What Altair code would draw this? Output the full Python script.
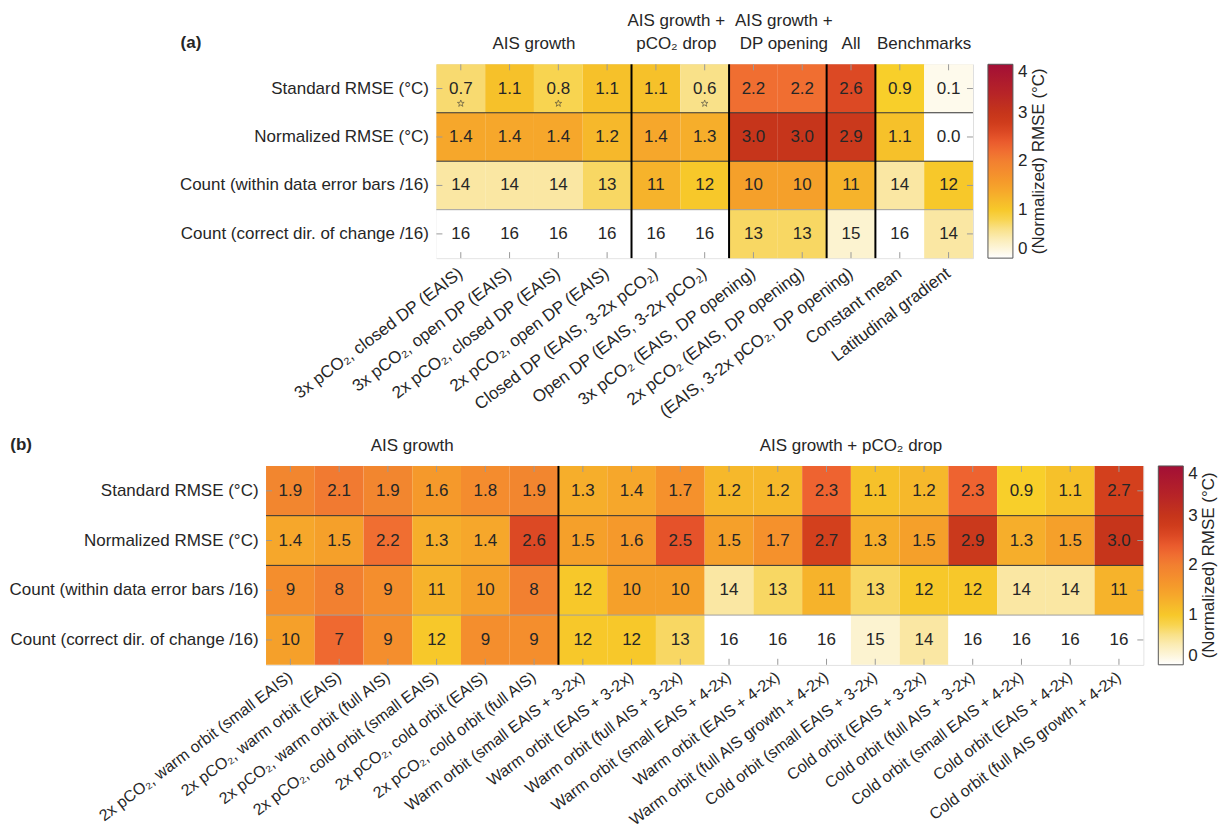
import altair as alt
import pandas as pd

FONT = "Liberation Sans"
TXT = "#262626"
FS = 17

ROWS = ["Standard RMSE (°C)", "Normalized RMSE (°C)",
        "Count (within data error bars /16)", "Count (correct dir. of change /16)"]

A_COLS = ["3x pCO₂, closed DP (EAIS)", "3x pCO₂, open DP (EAIS)",
          "2x pCO₂, closed DP (EAIS)", "2x pCO₂, open DP (EAIS)",
          "Closed DP (EAIS, 3-2x pCO₂)", "Open DP (EAIS, 3-2x pCO₂)",
          "3x pCO₂ (EAIS, DP opening)", "2x pCO₂ (EAIS, DP opening)",
          "(EAIS, 3-2x pCO₂, DP opening)", "Constant mean", "Latitudinal gradient"]
A_STD = [0.7, 1.1, 0.8, 1.1, 1.1, 0.6, 2.2, 2.2, 2.6, 0.9, 0.1]
A_NORM = [1.4, 1.4, 1.4, 1.2, 1.4, 1.3, 3.0, 3.0, 2.9, 1.1, 0.0]
A_WITHIN = [14, 14, 14, 13, 11, 12, 10, 10, 11, 14, 12]
A_DIR = [16, 16, 16, 16, 16, 16, 13, 13, 15, 16, 14]
A_STARS = [0, 2, 5]
A_GROUP_START = [4, 6, 8, 9]
# (label, column index, band position, horizontal nudge)
A_HEADERS = [("AIS growth", 2, 0.0, 0), ("AIS growth +\npCO₂ drop", 5, 0.0, -4),
             ("AIS growth +\nDP opening", 7, 0.0, 6), ("All", 8, 0.5, 0),
             ("Benchmarks", 10, 0.0, 0)]

B_COLS = ["2x pCO₂, warm orbit (small EAIS)", "2x pCO₂, warm orbit (EAIS)",
          "2x pCO₂, warm orbit (full AIS)", "2x pCO₂, cold orbit (small EAIS)",
          "2x pCO₂, cold orbit (EAIS)", "2x pCO₂, cold orbit (full AIS)",
          "Warm orbit (small EAIS + 3-2x)", "Warm orbit (EAIS + 3-2x)",
          "Warm orbit (full AIS + 3-2x)", "Warm orbit (small EAIS + 4-2x)",
          "Warm orbit (EAIS + 4-2x)", "Warm orbit (full AIS growth + 4-2x)",
          "Cold orbit (small EAIS + 3-2x)", "Cold orbit (EAIS + 3-2x)",
          "Cold orbit (full AIS + 3-2x)", "Cold orbit (small EAIS + 4-2x)",
          "Cold orbit (EAIS + 4-2x)", "Cold orbit (full AIS growth + 4-2x)"]
B_STD = [1.9, 2.1, 1.9, 1.6, 1.8, 1.9, 1.3, 1.4, 1.7, 1.2, 1.2, 2.3, 1.1, 1.2, 2.3, 0.9, 1.1, 2.7]
B_NORM = [1.4, 1.5, 2.2, 1.3, 1.4, 2.6, 1.5, 1.6, 2.5, 1.5, 1.7, 2.7, 1.3, 1.5, 2.9, 1.3, 1.5, 3.0]
B_WITHIN = [9, 8, 9, 11, 10, 8, 12, 10, 10, 14, 13, 11, 13, 12, 12, 14, 14, 11]
B_DIR = [10, 7, 9, 12, 9, 9, 12, 12, 13, 16, 16, 16, 15, 14, 16, 16, 16, 16]
B_STARS = []
B_GROUP_START = [6]
B_HEADERS = [("AIS growth", 3, 0.0, 0), ("AIS growth + pCO₂ drop", 12, 0.0, 0)]

CMAP_DOMAIN = [0, 0.25, 0.5, 0.75, 0.9, 1.1, 1.3, 1.5, 1.7, 1.9, 2.1, 2.3, 2.5,
               2.7, 3.0, 3.5, 4.0]
CMAP_RANGE = ["#ffffff", "#fcf3d0", "#fae7a3", "#f8d763", "#f8cf2a", "#f6c12a",
              "#f6ae2b", "#f5a02a", "#f5912c", "#f2862f", "#f17a31", "#ee6330",
              "#e5522a", "#d3401d", "#c6351b", "#b3202a", "#a30f36"]
LEGEND_TITLE = "(Normalized) RMSE (°C)"

STAR_PATH = ("M0,-1L0.235,-0.324L0.951,-0.309L0.38,0.124L0.588,0.809L0,0.4"
             "L-0.588,0.809L-0.38,0.124L-0.951,-0.309L-0.235,-0.324Z")


def make_panel(tag, cols, std, norm, within, dirc, stars, gstarts, headers, w, h,
               xfs=FS, xpad=13):
    recs = []
    for i, c in enumerate(cols):
        recs.append({"col": c, "row": ROWS[0], "txt": f"{std[i]:.1f}", "cval": std[i]})
        recs.append({"col": c, "row": ROWS[1], "txt": f"{norm[i]:.1f}", "cval": norm[i]})
        recs.append({"col": c, "row": ROWS[2], "txt": str(within[i]), "cval": (16 - within[i]) / 4})
        recs.append({"col": c, "row": ROWS[3], "txt": str(dirc[i]), "cval": (16 - dirc[i]) / 4})
    df = pd.DataFrame(recs)

    xsc = alt.Scale(domain=cols, paddingInner=0, paddingOuter=0)
    ysc = alt.Scale(domain=ROWS, paddingInner=0, paddingOuter=0)
    X = alt.X("col:N", scale=xsc, sort=cols, title=None,
              axis=alt.Axis(labelAngle=323, labelAlign="right", labelBaseline="middle",
                            labelFontSize=xfs, labelColor=TXT, labelFont=FONT,
                            ticks=False, domain=False, labelPadding=xpad, labelLimit=600))
    Y = alt.Y("row:N", scale=ysc, sort=ROWS, title=None,
              axis=alt.Axis(labelFontSize=FS, labelColor=TXT, labelFont=FONT,
                            ticks=False, domain=False, labelPadding=8, labelLimit=600))

    heat = alt.Chart(df).mark_rect(opacity=1).encode(
        x=X, y=Y,
        color=alt.Color("cval:Q",
                        scale=alt.Scale(domain=CMAP_DOMAIN, range=CMAP_RANGE,
                                        clamp=True, interpolate="rgb"),
                        legend=alt.Legend(orient="none", legendX=w + 15, legendY=0,
                                          direction="vertical", title=None,
                                          gradientLength=h, gradientThickness=25,
                                          gradientStrokeColor="#555", gradientStrokeWidth=1,
                                          values=[0, 1, 2, 3, 4], labelFontSize=FS,
                                          labelColor=TXT, labelFont=FONT, labelOffset=5)),
    )
    txt = alt.Chart(df).mark_text(fontSize=FS, color=TXT, font=FONT).encode(
        x="col:N", y="row:N", text="txt:N")

    layers = [heat, txt]

    if stars:
        sdf = pd.DataFrame({"col": [cols[i] for i in stars], "row": [ROWS[0]] * len(stars)})
        layers.append(alt.Chart(sdf).mark_point(shape=STAR_PATH, size=50, filled=False,
                                                stroke="#333333", strokeWidth=0.8,
                                                yOffset=15).encode(x="col:N", y="row:N"))

    cdf = pd.DataFrame({"col": cols})
    rdf = pd.DataFrame({"row": ROWS})
    tick_col = "#9a9a9a"
    layers.append(alt.Chart(cdf).mark_rule(color=tick_col, strokeWidth=1).encode(
        x="col:N", y=alt.value(0), y2=alt.value(6)))
    layers.append(alt.Chart(cdf).mark_rule(color=tick_col, strokeWidth=1).encode(
        x="col:N", y=alt.value(h - 6), y2=alt.value(h)))
    layers.append(alt.Chart(rdf).mark_rule(color=tick_col, strokeWidth=1).encode(
        y="row:N", x=alt.value(0), x2=alt.value(6)))
    layers.append(alt.Chart(rdf).mark_rule(color=tick_col, strokeWidth=1).encode(
        y="row:N", x=alt.value(w - 6), x2=alt.value(w)))

    hdf = pd.DataFrame({"row": ROWS[1:], "lc": ["#303030", "#303030", "#a0a0a0"]})
    layers.append(alt.Chart(hdf).mark_rule(strokeWidth=1).encode(
        y=alt.Y("row:N", bandPosition=0),
        stroke=alt.Stroke("lc:N", scale=None)))

    vdf = pd.DataFrame({"col": [cols[i] for i in gstarts]})
    layers.append(alt.Chart(vdf).mark_rule(strokeWidth=2, color="black").encode(
        x=alt.X("col:N", bandPosition=0)))

    # group headers: one text layer per (band position, nudge, line level from bottom)
    items = {}
    for label, idx, bp, nudge in headers:
        lines = label.split("\n")
        for lvl, line in enumerate(reversed(lines)):
            items.setdefault((bp, nudge, lvl), []).append((cols[idx], line))
    for (bp, nudge, lvl), vals in items.items():
        hdf2 = pd.DataFrame({"col": [v[0] for v in vals], "label": [v[1] for v in vals]})
        layers.append(alt.Chart(hdf2).mark_text(fontSize=FS, color=TXT, font=FONT,
                                                baseline="bottom", dx=nudge).encode(
            x=alt.X("col:N", bandPosition=bp), y=alt.value(-11 - 23 * lvl), text="label:N"))

    tdf = pd.DataFrame({"t": [tag]})
    layers.append(alt.Chart(tdf).mark_text(fontSize=FS, fontWeight="bold", color=TXT,
                                           font=FONT, align="left", baseline="bottom").encode(
        x=alt.value(-256), y=alt.value(-12), text="t:N"))
    ldf = pd.DataFrame({"t": [LEGEND_TITLE]})
    layers.append(alt.Chart(ldf).mark_text(fontSize=FS, color=TXT, font=FONT, angle=270,
                                           baseline="middle", align="center").encode(
        x=alt.value(w + 66), y=alt.value(h / 2), text="t:N"))

    return alt.layer(*layers).properties(width=w, height=h)


pa = make_panel("(a)", A_COLS, A_STD, A_NORM, A_WITHIN, A_DIR, A_STARS,
                A_GROUP_START, A_HEADERS, 537, 194)
pb = make_panel("(b)", B_COLS, B_STD, B_NORM, B_WITHIN, B_DIR, B_STARS,
                B_GROUP_START, B_HEADERS, 878, 199, xfs=16, xpad=10)

chart = alt.vconcat(pa, pb, spacing=14, center=True).resolve_scale(
    color="independent"
).properties(
    padding={"left": 0, "top": 3, "right": 0, "bottom": 0}
).configure_view(stroke="#444444", strokeWidth=1).configure(font=FONT)

chart.save("out.html", embed_options={"renderer": "svg", "actions": False})
